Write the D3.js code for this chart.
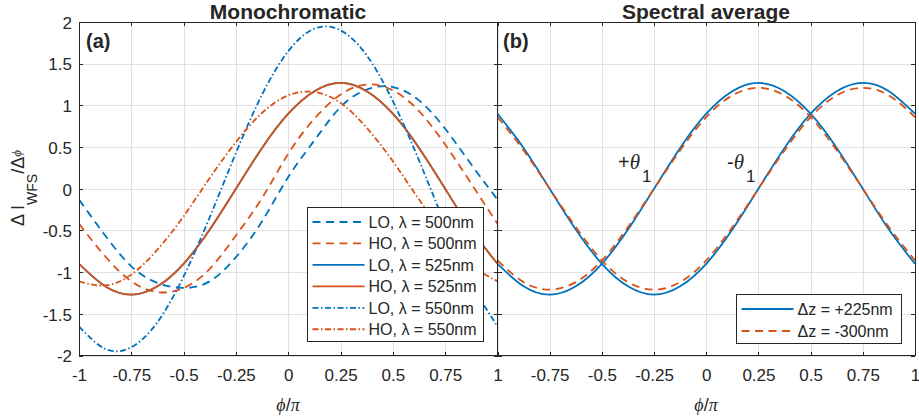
<!DOCTYPE html>
<html><head><meta charset="utf-8">
<script src="https://cdnjs.cloudflare.com/ajax/libs/d3/7.8.5/d3.min.js"></script>
<style>
body{margin:0;background:#fff}
svg{display:block}
text{font-family:"Liberation Sans",Arial,sans-serif;fill:#262626}
</style>
</head><body>
<svg id="c" width="919" height="419"></svg>
<script>
// ---- data ----
const phi = [-1,-0.875,-0.75,-0.625,-0.5,-0.375,-0.25,-0.125,0,0.125,0.25,0.375,0.5,0.625,0.75,0.875,1];

// panel (a): monochromatic
const lo500 = [-0.13,-0.56,-0.93,-1.13,-1.19,-1.11,-0.82,-0.39,0.14,0.58,0.98,1.19,1.22,1.06,0.72,0.29,-0.13];
const ho500 = [-0.42,-0.81,-1.11,-1.24,-1.19,-0.96,-0.56,-0.11,0.42,0.84,1.13,1.25,1.18,0.93,0.53,0.06,-0.42];
const lo525 = [-0.90,-1.17,-1.27,-1.17,-0.90,-0.49,0,0.49,0.90,1.17,1.27,1.17,0.90,0.49,0,-0.49,-0.90];
const ho525 = [-0.90,-1.17,-1.27,-1.17,-0.90,-0.49,0,0.49,0.90,1.17,1.27,1.17,0.90,0.49,0,-0.49,-0.90];
const lo550 = [-1.65,-1.92,-1.90,-1.60,-1.05,-0.34,0.43,1.13,1.65,1.92,1.90,1.60,1.05,0.34,-0.43,-1.13,-1.65];
const ho550 = [-1.11,-1.16,-1.03,-0.73,-0.33,0.13,0.56,0.91,1.12,1.16,1.03,0.73,0.33,-0.13,-0.56,-0.91,-1.11];

// panel (b): spectral average
const plus225Pos  = [-0.90,-1.17,-1.27,-1.17,-0.90,-0.49,0,0.49,0.90,1.17,1.27,1.17,0.90,0.49,0,-0.49,-0.90];
const plus225Neg  = [0.90,0.49,0,-0.49,-0.90,-1.17,-1.27,-1.17,-0.90,-0.49,0,0.49,0.90,1.17,1.27,1.17,0.90];
const minus300Pos = [-0.86,-1.12,-1.21,-1.12,-0.86,-0.46,0,0.46,0.86,1.12,1.21,1.12,0.86,0.46,0,-0.46,-0.86];
const minus300Neg = [0.86,0.46,0,-0.46,-0.86,-1.12,-1.21,-1.12,-0.86,-0.46,0,0.46,0.86,1.12,1.21,1.12,0.86];

const xTicks = [-1,-0.75,-0.5,-0.25,0,0.25,0.5,0.75,1];
const xTickLabelsA = ["-1","-0.75","-0.5","-0.25","0","0.25","0.5","0.75","1"];
const xTickLabelsB = ["","-0.75","-0.5","-0.25","0","0.25","0.5","0.75","1"];
const yTicks = [-2,-1.5,-1,-0.5,0,0.5,1,1.5,2];
const yTickLabels = ["-2","-1.5","-1","-0.5","0","0.5","1","1.5","2"];

const monoLabels = ["LO, λ = 500nm","HO, λ = 500nm","LO, λ = 525nm","HO, λ = 525nm","LO, λ = 550nm","HO, λ = 550nm"];
const specLabels = ["Δz = +225nm","Δz = -300nm"];

// ---- styling ----
const BLUE = "#0072BD", ORANGE = "#D95319";
const DASH = "8,5.5", DASHDOT = "6,2.5,1.5,2.5";
const monoSeries = [
  {values: lo500, color: BLUE,   dash: DASH},
  {values: ho500, color: ORANGE, dash: DASH},
  {values: lo525, color: BLUE,   dash: null},
  {values: ho525, color: ORANGE, dash: null},
  {values: lo550, color: BLUE,   dash: DASHDOT},
  {values: ho550, color: ORANGE, dash: DASHDOT}
];
const specSeries = [
  {values: plus225Pos,  color: BLUE,   dash: null, leg: 0},
  {values: plus225Neg,  color: BLUE,   dash: null, leg: -1},
  {values: minus300Pos, color: ORANGE, dash: DASH, leg: 1},
  {values: minus300Neg, color: ORANGE, dash: DASH, leg: -1}
];

const svg = d3.select("#c");
const Y0 = 355.5, Y1 = 22;
const y = d3.scaleLinear().domain([-2,2]).range([Y0, Y1]);

function panel(x0, x1, showY, xLabels) {
  const x = d3.scaleLinear().domain([-1,1]).range([x0, x1]);
  const g = svg.append("g");
  // grid
  g.append("g").attr("transform",`translate(0,${Y0})`)
    .call(d3.axisBottom(x).tickValues(xTicks).tickSize(-(Y0-Y1)).tickFormat(""))
    .call(s=>{s.select(".domain").remove(); s.selectAll("line").attr("stroke","#e2e2e2").attr("shape-rendering","crispEdges");});
  g.append("g").attr("transform",`translate(${x0},0)`)
    .call(d3.axisLeft(y).tickValues(yTicks).tickSize(-(x1-x0)).tickFormat(""))
    .call(s=>{s.select(".domain").remove(); s.selectAll("line").attr("stroke","#e2e2e2").attr("shape-rendering","crispEdges");});
  // axes with inward ticks
  const styleAx = s=>{s.select(".domain").remove(); s.selectAll("line").attr("stroke","#262626").attr("shape-rendering","crispEdges");
    s.selectAll("text").attr("font-size",17).attr("fill","#262626").attr("font-family",null);};
  g.append("g").attr("transform",`translate(0,${Y0})`)
    .call(d3.axisBottom(x).tickValues(xTicks).tickSizeInner(-4).tickSizeOuter(0).tickPadding(13.5).tickFormat((d,i)=>xLabels[i]))
    .call(styleAx);
  g.append("g").attr("transform",`translate(0,${Y1})`)
    .call(d3.axisTop(x).tickValues(xTicks).tickSizeInner(-4).tickSizeOuter(0).tickFormat(""))
    .call(styleAx);
  g.append("g").attr("transform",`translate(${x0},0)`)
    .call(d3.axisLeft(y).tickValues(yTicks).tickSizeInner(-4).tickSizeOuter(0).tickPadding(7).tickFormat(showY ? (d,i)=>yTickLabels[i] : ""))
    .call(styleAx).call(s=>s.selectAll("text").attr("dy","0.37em"));
  g.append("g").attr("transform",`translate(${x1},0)`)
    .call(d3.axisRight(y).tickValues(yTicks).tickSizeInner(-4).tickSizeOuter(0).tickFormat(""))
    .call(styleAx);
  return {g, x};
}

function drawLines(p, series) {
  const line = d3.line().x((d,i)=>p.x(phi[i])).y(d=>y(d)).curve(d3.curveNatural);
  const clipId = "clip" + Math.round(p.x.range()[0]);
  p.g.append("clipPath").attr("id", clipId).append("rect")
    .attr("x", p.x.range()[0]).attr("y", Y1).attr("width", p.x.range()[1]-p.x.range()[0]).attr("height", Y0-Y1);
  const lg = p.g.append("g").attr("clip-path", `url(#${clipId})`);
  series.forEach(s=>{
    lg.append("path").datum(s.values).attr("d", line).attr("fill","none")
      .attr("stroke", s.color).attr("stroke-width", 1.8)
      .attr("stroke-dasharray", s.dash).attr("stroke-linejoin","round");
  });
}

function box(p) {
  const [a,b] = p.x.range();
  p.g.append("rect").attr("x",a).attr("y",Y1).attr("width",b-a).attr("height",Y0-Y1)
    .attr("fill","none").attr("stroke","#262626").attr("stroke-width",1).attr("shape-rendering","crispEdges");
}

function legend(g, x, yTop, w, rowH, items, labels) {
  const h = rowH*labels.length + 5;
  g.append("rect").attr("x",x).attr("y",yTop).attr("width",w).attr("height",h)
    .attr("fill","#fff").attr("stroke","#262626").attr("stroke-width",1).attr("shape-rendering","crispEdges");
  labels.forEach((t,i)=>{
    const cy = yTop + 14.5 + i*rowH;
    g.append("line").attr("x1",x+5).attr("x2",x+57).attr("y1",cy).attr("y2",cy)
      .attr("stroke",items[i].color).attr("stroke-width",1.8).attr("stroke-dasharray",items[i].dash);
    g.append("text").attr("x",x+61).attr("y",cy+5.8).attr("font-size",16).text(t);
  });
}

// ---- panel (a) ----
const pa = panel(79, 497.5, true, xTickLabelsA);
drawLines(pa, monoSeries);
box(pa);
legend(pa.g, 307.5, 207.5, 175.5, 21.45, monoSeries, monoLabels);
pa.g.append("text").attr("x",86).attr("y",48).attr("font-size",20).attr("font-weight","bold").text("(a)");
svg.append("text").attr("x",288).attr("y",19).attr("text-anchor","middle").attr("font-size",21).attr("font-weight","bold").text("Monochromatic");

// ---- panel (b) ----
const pb = panel(497.5, 915, false, xTickLabelsB);
drawLines(pb, specSeries);
box(pb);
legend(pb.g, 736.5, 294.5, 164.5, 22, specSeries.filter(s=>s.leg>=0), specLabels);
pb.g.append("text").attr("x",503).attr("y",48).attr("font-size",20).attr("font-weight","bold").text("(b)");
svg.append("text").attr("x",706).attr("y",19).attr("text-anchor","middle").attr("font-size",21).attr("font-weight","bold").text("Spectral average");

// theta annotations
function theta(x, sign) {
  const t = svg.append("text").attr("x",x).attr("y",169).attr("font-size",20).attr("fill","#000");
  t.append("tspan").text(sign);
  t.append("tspan").attr("font-family","'Liberation Serif',serif").attr("font-style","italic").attr("font-size",21).text("θ");
  t.append("tspan").attr("dy",13).attr("dx",2).attr("font-size",17).text("1");
}
theta(618, "+");
theta(727, "-");

// axis labels
[288, 706].forEach(cx=>{
  const t = svg.append("text").attr("x",cx).attr("y",411).attr("text-anchor","middle").attr("font-size",18);
  t.append("tspan").attr("font-family","'Liberation Serif',serif").attr("font-style","italic").text("ϕ");
  t.append("tspan").text("/");
  t.append("tspan").attr("font-family","'Liberation Serif',serif").attr("font-style","italic").text("π");
});
const yl = svg.append("text").attr("transform","translate(24,188) rotate(-90)").attr("text-anchor","middle").attr("font-size",18);
yl.append("tspan").text("Δ I");
yl.append("tspan").attr("dy",13).attr("font-size",14).text("WFS");
yl.append("tspan").attr("dy",-13).text("/Δ");
yl.append("tspan").attr("dy",-3).attr("font-size",13).attr("font-family","'Liberation Serif',serif").attr("font-style","italic").text("ϕ");
</script>
</body></html>
